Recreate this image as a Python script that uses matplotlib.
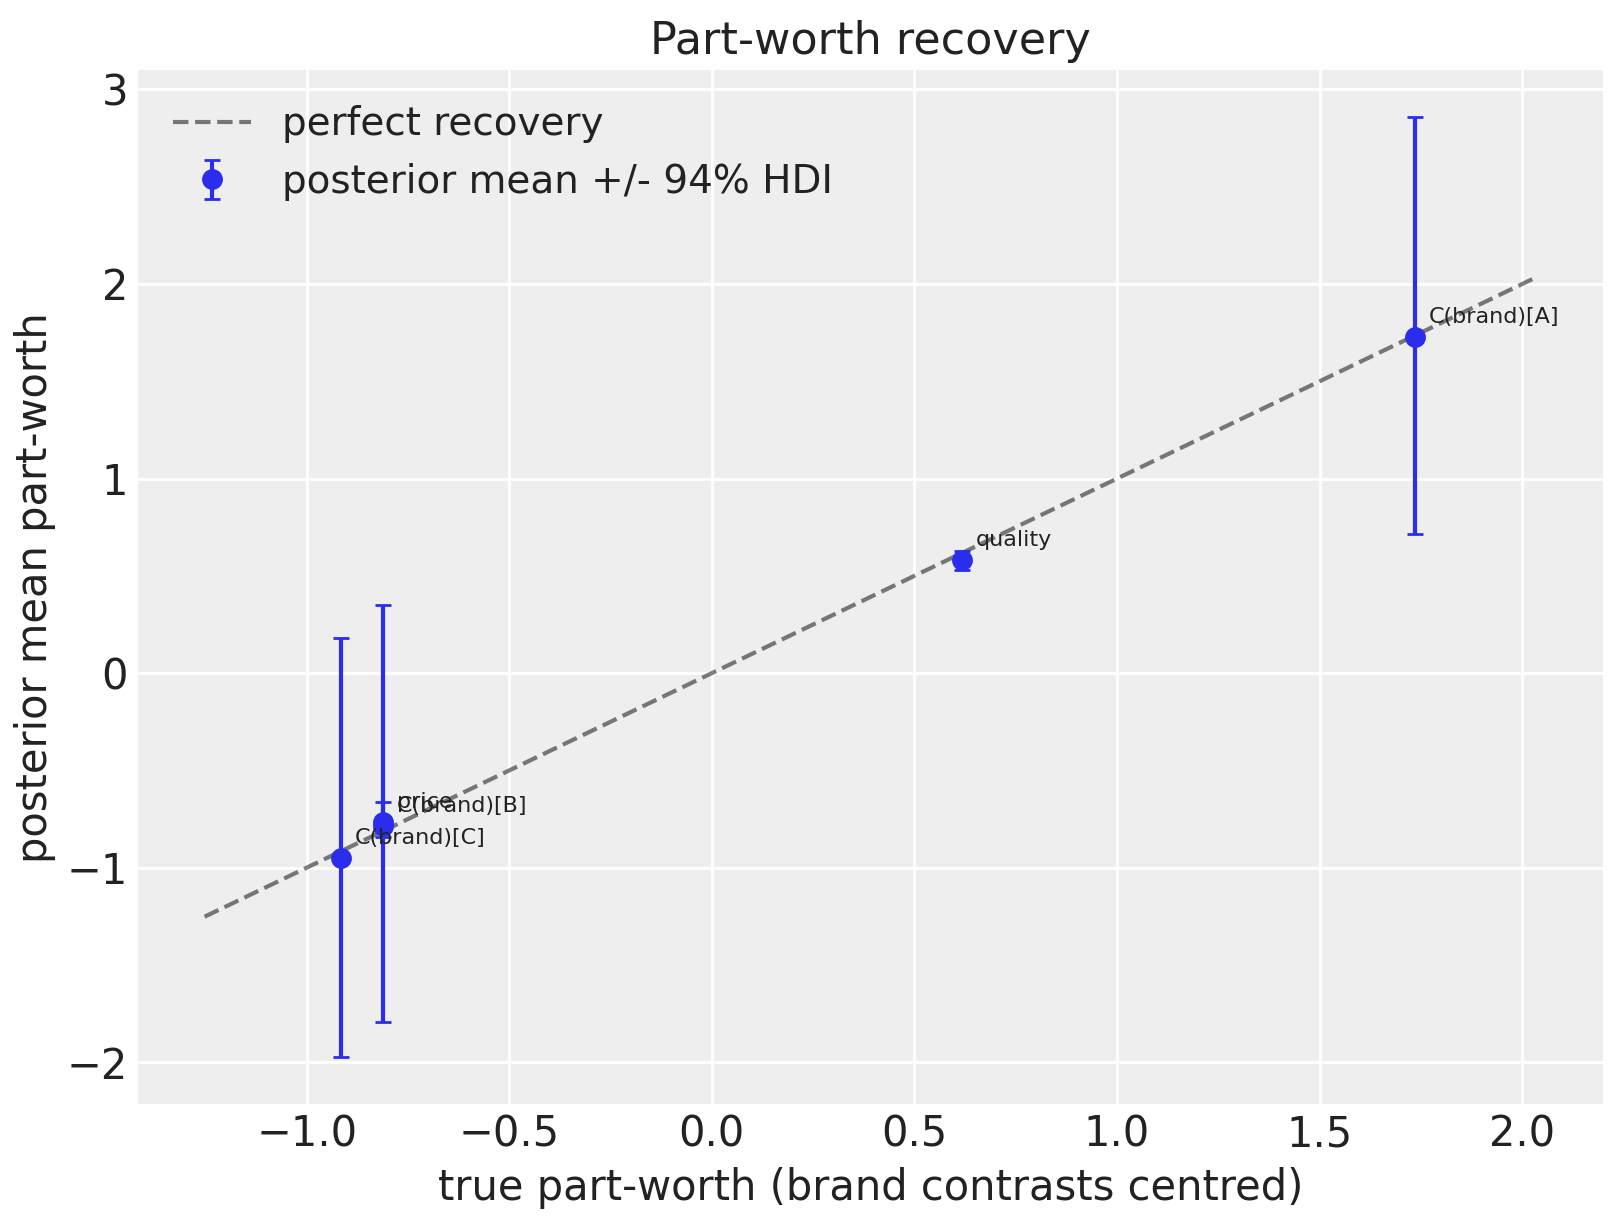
import numpy as np
import matplotlib
matplotlib.use("Agg")
import matplotlib.pyplot as plt

# part-worth estimates
param_names = ["C(brand)[A]", "C(brand)[B]", "C(brand)[C]", "price", "quality"]
true_vals = np.array([1.735, -0.812, -0.916, -0.812, 0.617])
post_mean = np.array([1.730, -0.785, -0.952, -0.765, 0.580])
hdi_low = np.array([0.713, -1.793, -1.973, -0.840, 0.530])
hdi_high = np.array([2.856, 0.351, 0.181, -0.660, 0.630])

plt.rcParams.update({
    "axes.facecolor": "#eeeeee",
    "axes.edgecolor": "white",
    "axes.grid": True,
    "grid.color": "white",
    "grid.linewidth": 1.0,
    "axes.spines.left": False,
    "axes.spines.right": False,
    "axes.spines.top": False,
    "axes.spines.bottom": False,
    "xtick.major.size": 0,
    "ytick.major.size": 0,
    "xtick.labelsize": 15,
    "ytick.labelsize": 15,
    "axes.labelsize": 15,
    "axes.titlesize": 16,
    "legend.fontsize": 14,
    "text.color": "#222222",
    "axes.labelcolor": "#222222",
    "xtick.color": "#222222",
    "ytick.color": "#222222",
    "axes.axisbelow": True,
})


def main():
    fig = plt.figure(figsize=(8.115, 6.115), dpi=200)
    ax = fig.add_axes([0.085, 0.0973, 0.9027, 0.8451])

    lo = min(true_vals.min(), post_mean.min()) - 0.3
    hi = max(true_vals.max(), post_mean.max()) + 0.3
    ax.plot([lo, hi], [lo, hi], "k--", alpha=0.5, lw=1.5, label="perfect recovery")

    yerr = np.vstack([post_mean - hdi_low, hdi_high - post_mean])
    ax.errorbar(true_vals, post_mean, yerr=yerr, fmt="o", color="#2a2eec",
                ms=6.5, capsize=3, lw=1.5, label="posterior mean +/- 94% HDI")

    for name, x, y in zip(param_names, true_vals, post_mean):
        ax.annotate(name, (x, y), xytext=(5, 5), textcoords="offset points",
                    fontsize=8)

    ax.set_xlabel("true part-worth (brand contrasts centred)")
    ax.set_ylabel("posterior mean part-worth")
    ax.set_title("Part-worth recovery")
    ax.legend(loc="upper left", frameon=False)

    fig.savefig("out.png", dpi=200)
    plt.close(fig)


if __name__ == "__main__":
    main()
